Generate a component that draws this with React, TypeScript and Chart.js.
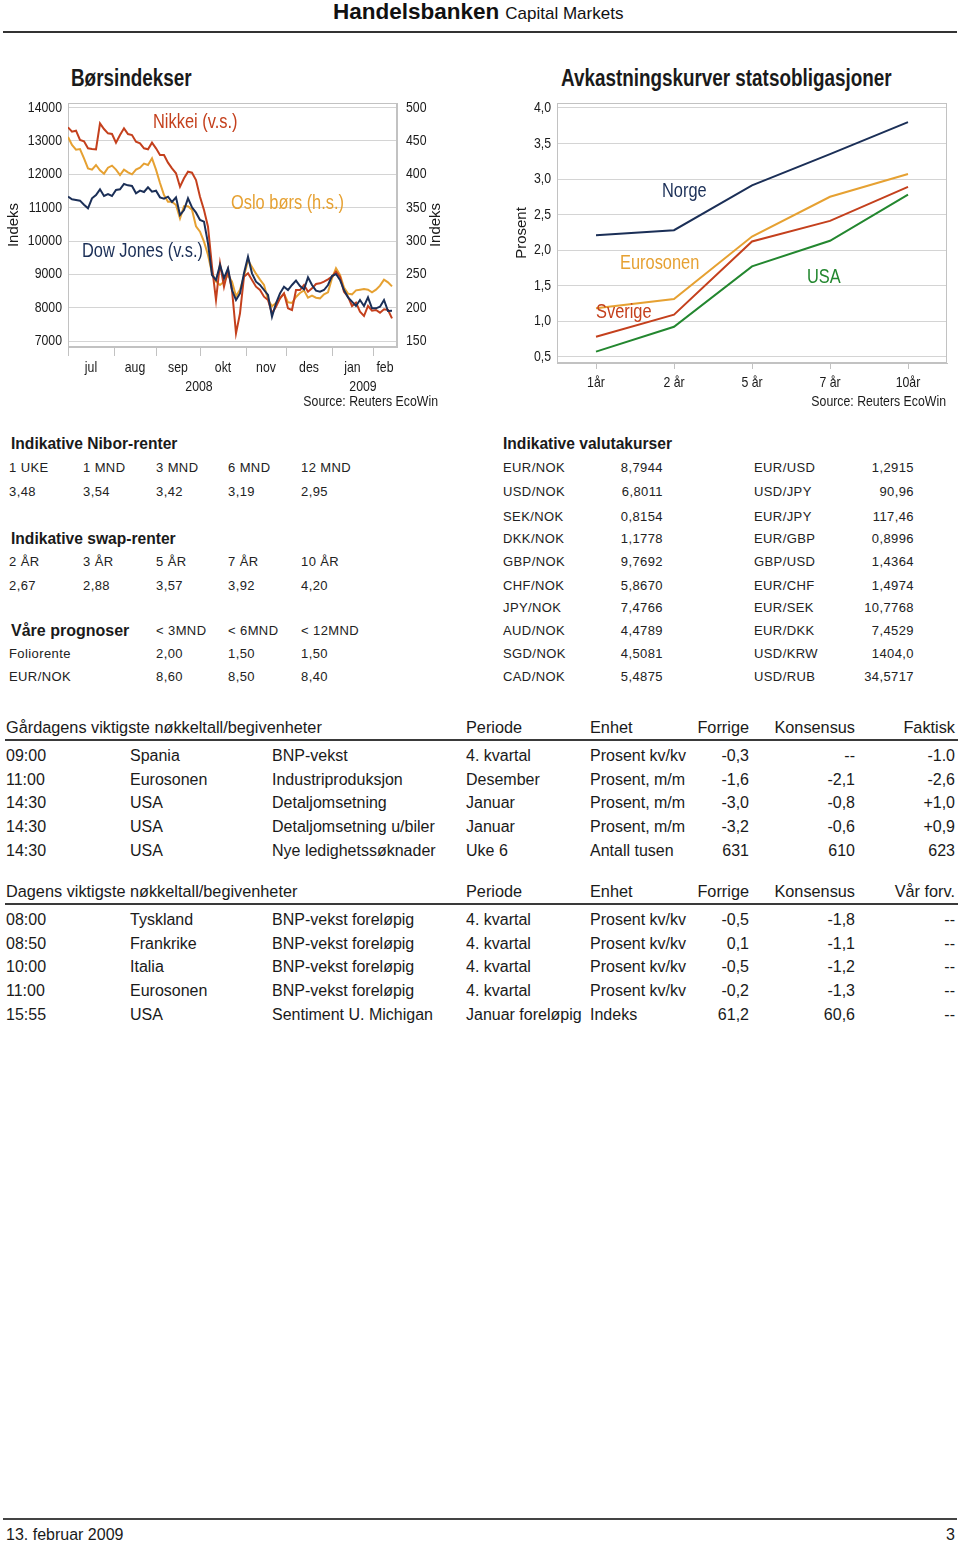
import React, { useEffect, useRef } from "react";
import { Chart, registerables } from "chart.js";

Chart.register(...registerables);
if (typeof document !== "undefined") document.body.style.margin = "0";

const SANS = '"Liberation Sans", Arial, Helvetica, sans-serif';
const SX = 0.82; // horizontal squeeze that imitates a narrow face

const NAVY = "#1b2f57";
const RED = "#c4401d";
const ORANGE = "#e6a132";
const GREEN = "#23872f";
const GRID = "#d4d4d4";
const FRAME = "#c2c2c2";
const INK = "#1a1a1a";

// ---------- Børsindekser (sampled roughly every second trading day, Jul 2008 - Feb 2009) ----------
const nikkei = [
  13410, 13280, 13310, 13030, 12990, 12780, 12760, 12750, 13530, 13360,
  13230, 13210, 12950, 13180, 13380, 13210, 13180, 12980, 12930, 12780,
  12750, 12950, 12780, 12580, 12580, 12350, 12180, 12030, 11630, 11880,
  12080, 12050, 11830, 11330, 10930, 10430, 9230, 8230, 9330, 8630,
  9130, 8530, 7230, 7830, 8930, 9030, 8830, 8630, 8530, 8330,
  8230, 7830, 8030, 8280, 8430, 7980, 7930, 8530, 8530, 8680,
  8480, 8580, 8710, 8730, 8780, 8850, 8930, 9080, 8930, 8480,
  8330, 8050, 8150, 7880, 7750, 8050, 7910, 7930, 7850, 7950,
  7930, 7680,
];
const dowJones = [
  11330, 11250, 11230, 11210, 11090, 10980, 11280, 11380, 11550, 11350,
  11410, 11350, 11530, 11550, 11710, 11670, 11650, 11430, 11510, 11470,
  11610, 11480, 11510, 11310, 11270, 11330, 11170, 11310, 10780, 10930,
  11280, 11010, 10850, 10630, 10580, 9930, 8980, 8830, 9280, 8880,
  9180, 8530, 8230, 8430, 9030, 9530, 9030, 8780, 8680, 8530,
  8380, 7730, 8130, 8430, 8630, 8530, 8680, 8810, 8650, 8550,
  8910, 8680, 8510, 8480, 8530, 8680, 8950, 9010, 8830, 8530,
  8310, 8180, 8050, 8230, 8050, 8310, 7980, 7980, 8030, 8230,
  7900, 7910,
];
const osloBors = [
  456, 444, 437, 438, 424, 409, 407, 414, 406, 401,
  410, 413, 407, 399, 407, 403, 400, 407, 410, 416,
  414, 424, 407, 387, 369, 359, 359, 354, 334, 352,
  352, 347, 322, 314, 299, 279, 252, 239, 234, 239,
  249, 239, 217, 227, 247, 271, 261, 251, 242, 234,
  212, 202, 207, 214, 221, 208, 207, 216, 222, 226,
  215, 218, 215, 214, 220, 223, 244, 259, 249, 230,
  221, 220, 226, 227, 228, 227, 223, 227, 233, 242,
  238, 232,
];
const months = ["jul", "aug", "sep", "okt", "nov", "des", "jan", "feb"];
const monthStarts = [0, 11.5, 22, 33, 44.5, 54.5, 66, 76.25]; // in sample units
const xEnd = 82.25;
const years = ["2008", "2009"];
const yearAt = [32.75, 73.75];
const leftTicks = [7000, 8000, 9000, 10000, 11000, 12000, 13000, 14000];
const rightTicks = [150, 200, 250, 300, 350, 400, 450, 500];

// ---------- Avkastningskurver ----------
const maturities = ["1år", "2 år", "5 år", "7 år", "10år"];
const norge = [2.21, 2.28, 2.91, 3.35, 3.8];
const eurosonen = [1.18, 1.31, 2.19, 2.75, 3.07];
const sverige = [0.78, 1.09, 2.12, 2.41, 2.89];
const usa = [0.57, 0.92, 1.77, 2.13, 2.78];
const yieldTicks = [0.5, 1.0, 1.5, 2.0, 2.5, 3.0, 3.5, 4.0];

// ---------- Tables ----------
const niborTenors = ["1 UKE", "1 MND", "3 MND", "6 MND", "12 MND"];
const niborRates = ["3,48", "3,54", "3,42", "3,19", "2,95"];
const swapTenors = ["2 ÅR", "3 ÅR", "5 ÅR", "7 ÅR", "10 ÅR"];
const swapRates = ["2,67", "2,88", "3,57", "3,92", "4,20"];
const forecastHorizons = ["< 3MND", "< 6MND", "< 12MND"];
const foliorente = ["2,00", "1,50", "1,50"];
const eurnokForecast = ["8,60", "8,50", "8,40"];
const fxLeftPairs = ["EUR/NOK", "USD/NOK", "SEK/NOK", "DKK/NOK", "GBP/NOK", "CHF/NOK", "JPY/NOK", "AUD/NOK", "SGD/NOK", "CAD/NOK"];
const fxLeftRates = ["8,7944", "6,8011", "0,8154", "1,1778", "9,7692", "5,8670", "7,4766", "4,4789", "4,5081", "5,4875"];
const fxRightPairs = ["EUR/USD", "USD/JPY", "EUR/JPY", "EUR/GBP", "GBP/USD", "EUR/CHF", "EUR/SEK", "EUR/DKK", "USD/KRW", "USD/RUB"];
const fxRightRates = ["1,2915", "90,96", "117,46", "0,8996", "1,4364", "1,4974", "10,7768", "7,4529", "1404,0", "34,5717"];

const ydayTimes = ["09:00", "11:00", "14:30", "14:30", "14:30"];
const ydayCountries = ["Spania", "Eurosonen", "USA", "USA", "USA"];
const ydayEvents = ["BNP-vekst", "Industriproduksjon", "Detaljomsetning", "Detaljomsetning u/biler", "Nye ledighetssøknader"];
const ydayPeriods = ["4. kvartal", "Desember", "Januar", "Januar", "Uke 6"];
const ydayUnits = ["Prosent kv/kv", "Prosent, m/m", "Prosent, m/m", "Prosent, m/m", "Antall tusen"];
const ydayPrev = ["-0,3", "-1,6", "-3,0", "-3,2", "631"];
const ydayCons = ["--", "-2,1", "-0,8", "-0,6", "610"];
const ydayActual = ["-1.0", "-2,6", "+1,0", "+0,9", "623"];

const todayTimes = ["08:00", "08:50", "10:00", "11:00", "15:55"];
const todayCountries = ["Tyskland", "Frankrike", "Italia", "Eurosonen", "USA"];
const todayEvents = ["BNP-vekst foreløpig", "BNP-vekst foreløpig", "BNP-vekst foreløpig", "BNP-vekst foreløpig", "Sentiment U. Michigan"];
const todayPeriods = ["4. kvartal", "4. kvartal", "4. kvartal", "4. kvartal", "Januar foreløpig"];
const todayUnits = ["Prosent kv/kv", "Prosent kv/kv", "Prosent kv/kv", "Prosent kv/kv", "Indeks"];
const todayPrev = ["-0,5", "0,1", "-0,5", "-0,2", "61,2"];
const todayCons = ["-1,8", "-1,1", "-1,2", "-1,3", "60,6"];
const todayOurs = ["--", "--", "--", "--", "--"];

// ---------- helpers ----------
type TP = {
  x: number; y: number; s?: number; b?: boolean; c?: string; r?: boolean; ls?: number; n?: boolean;
  children: React.ReactNode;
};
function T({ x, y, s = 13, b = false, c = INK, r = false, ls = 0, n = false, children }: TP) {
  const style: React.CSSProperties = {
    position: "absolute",
    top: y,
    transform: n ? `translateY(-50%) scaleX(${SX})` : "translateY(-50%)",
    transformOrigin: r ? "right center" : "left center",
    fontFamily: SANS,
    fontSize: s,
    fontWeight: b ? 700 : 400,
    lineHeight: 1.15,
    color: c,
    whiteSpace: "nowrap",
    letterSpacing: ls,
  };
  if (r) style.right = 960 - x;
  else style.left = x;
  return <div style={style}>{children}</div>;
}

function narrowText(ctx: CanvasRenderingContext2D, text: string, x: number, y: number, align: CanvasTextAlign) {
  ctx.save();
  ctx.translate(x, y);
  ctx.scale(SX, 1);
  ctx.textAlign = align;
  ctx.textBaseline = "middle";
  ctx.fillText(text, 0, 0);
  ctx.restore();
}

const framePlugin = {
  id: "frame",
  beforeDatasetsDraw(chart: any) {
    const { ctx, chartArea } = chart;
    const { left, top, right, bottom } = chartArea;
    ctx.save();
    ctx.strokeStyle = FRAME;
    ctx.lineWidth = 1;
    ctx.strokeRect(Math.round(left) + 0.5, Math.round(top) + 0.5, Math.round(right - left) - 1, Math.round(bottom - top) - 1);
    ctx.restore();
  },
};

const borsDecor = {
  id: "borsDecor",
  afterDraw(chart: any) {
    const { ctx, chartArea } = chart;
    const xs = chart.scales.x;
    const yl = chart.scales.y;
    const yr = chart.scales.y2;
    ctx.save();
    ctx.fillStyle = INK;
    ctx.font = `15px ${SANS}`;
    leftTicks.forEach((v) => narrowText(ctx, String(v), chartArea.left - 6, yl.getPixelForValue(v), "right"));
    rightTicks.forEach((v) => narrowText(ctx, String(v), chartArea.right + 9, yr.getPixelForValue(v), "left"));
    months.forEach((m, i) => {
      const a = monthStarts[i];
      const b = i + 1 < monthStarts.length ? monthStarts[i + 1] : xs.max;
      narrowText(ctx, m, (xs.getPixelForValue(a) + xs.getPixelForValue(b)) / 2, chartArea.bottom + 21, "center");
    });
    years.forEach((t, i) => narrowText(ctx, t, xs.getPixelForValue(yearAt[i]), chartArea.bottom + 40, "center"));
    narrowText(ctx, "Source: Reuters EcoWin", 438, chartArea.bottom + 55, "right");
    ctx.translate(436, (chartArea.top + chartArea.bottom) / 2);
    ctx.rotate(-Math.PI / 2);
    ctx.textAlign = "center";
    ctx.textBaseline = "middle";
    ctx.fillText("Indeks", 0, 0);
    ctx.restore();
  },
};

const yieldDecor = {
  id: "yieldDecor",
  afterDraw(chart: any) {
    const { ctx, chartArea } = chart;
    const xs = chart.scales.x;
    const ys = chart.scales.y;
    ctx.save();
    ctx.fillStyle = INK;
    ctx.font = `15px ${SANS}`;
    yieldTicks.forEach((v) => narrowText(ctx, v.toFixed(1).replace(".", ","), chartArea.left - 6, ys.getPixelForValue(v), "right"));
    maturities.forEach((m, i) => narrowText(ctx, m, xs.getPixelForValue(i), chartArea.bottom + 20, "center"));
    narrowText(ctx, "Source: Reuters EcoWin", 446, chartArea.bottom + 39, "right");
    ctx.restore();
  },
};

function BorsChart() {
  const ref = useRef<HTMLCanvasElement>(null);
  useEffect(() => {
    const pts = (arr: number[]) => arr.map((v, i) => ({ x: i, y: v }));
    const line = (label: string, data: number[], color: string, axis: string, order: number) => ({
      label,
      data: pts(data),
      borderColor: color,
      backgroundColor: color,
      borderWidth: 2,
      pointRadius: 0,
      tension: 0,
      yAxisID: axis,
      order,
    });
    const chart = new Chart(ref.current as HTMLCanvasElement, {
      type: "line",
      data: {
        datasets: [
          line("Dow Jones (v.s.)", dowJones, NAVY, "y", 0),
          line("Nikkei (v.s.)", nikkei, RED, "y", 1),
          line("Oslo børs (h.s.)", osloBors, ORANGE, "y2", 2),
        ] as any,
      },
      options: {
        animation: false,
        responsive: false,
        devicePixelRatio: 1,
        layout: { padding: { top: 8, left: 0, right: 0, bottom: 0 } },
        plugins: { legend: { display: false }, tooltip: { enabled: false } },
        scales: {
          x: {
            type: "linear",
            min: 0,
            max: xEnd,
            afterBuildTicks: (s: any) => { s.ticks = monthStarts.map((v) => ({ value: v })); },
            afterFit: (s: any) => { s.height = 68; },
            ticks: { display: false },
            grid: { drawOnChartArea: false, drawTicks: true, tickLength: 9, color: FRAME },
            border: { color: FRAME },
          },
          y: {
            position: "left",
            min: 6820,
            max: 14140,
            afterBuildTicks: (s: any) => { s.ticks = leftTicks.map((v) => ({ value: v })); },
            afterFit: (s: any) => { s.width = 68; },
            ticks: { display: false },
            grid: { color: GRID, drawTicks: false },
            border: { color: FRAME },
            title: { display: true, text: "Indeks", color: INK, font: { family: SANS, size: 15 }, padding: { top: 5, bottom: 0 } },
          },
          y2: {
            position: "right",
            min: 141,
            max: 507,
            afterBuildTicks: (s: any) => { s.ticks = rightTicks.map((v) => ({ value: v })); },
            afterFit: (s: any) => { s.width = 53; },
            ticks: { display: false },
            grid: { drawOnChartArea: false, drawTicks: false },
            border: { color: FRAME },
          },
        },
      } as any,
      plugins: [framePlugin, borsDecor],
    });
    return () => chart.destroy();
  }, []);
  return <canvas ref={ref} width={450} height={320} style={{ position: "absolute", left: 0, top: 95, width: 450, height: 320 }} />;
}

function YieldChart() {
  const ref = useRef<HTMLCanvasElement>(null);
  useEffect(() => {
    const line = (label: string, data: number[], color: string, order: number) => ({
      label, data, borderColor: color, backgroundColor: color, borderWidth: 2, pointRadius: 0, tension: 0, order,
    });
    const chart = new Chart(ref.current as HTMLCanvasElement, {
      type: "line",
      data: {
        labels: maturities,
        datasets: [
          line("Norge", norge, NAVY, 0),
          line("Eurosonen", eurosonen, ORANGE, 1),
          line("Sverige", sverige, RED, 2),
          line("USA", usa, GREEN, 3),
        ] as any,
      },
      options: {
        animation: false,
        responsive: false,
        devicePixelRatio: 1,
        layout: { padding: { top: 8, left: 0, right: 13, bottom: 0 } },
        plugins: { legend: { display: false }, tooltip: { enabled: false } },
        scales: {
          x: {
            type: "category",
            offset: true,
            afterFit: (s: any) => { s.height = 52; },
            ticks: { display: false },
            grid: { offset: false, drawOnChartArea: false, drawTicks: true, tickLength: 6, color: FRAME },
            border: { color: FRAME },
          },
          y: {
            min: 0.41,
            max: 4.07,
            afterBuildTicks: (s: any) => { s.ticks = yieldTicks.map((v) => ({ value: v })); },
            afterFit: (s: any) => { s.width = 57; },
            ticks: { display: false },
            grid: { color: GRID, drawTicks: false },
            border: { color: FRAME },
            title: { display: true, text: "Prosent", color: INK, font: { family: SANS, size: 15 }, padding: { top: 13, bottom: 0 } },
          },
        },
      } as any,
      plugins: [framePlugin, yieldDecor],
    });
    return () => chart.destroy();
  }, []);
  return <canvas ref={ref} width={460} height={320} style={{ position: "absolute", left: 500, top: 95, width: 460, height: 320 }} />;
}

const SM = { s: 13, ls: 0.4, c: "#222" };
const fxRowY = [468, 492, 517, 539, 562, 586, 608, 631, 654, 677];
const niborX = [9, 83, 156, 228, 301];

function EventTable({ top, title, lastHead, cols }: { top: number; title: string; lastHead: string; cols: string[][] }) {
  const rowY = [29, 53, 76, 100, 124];
  const [times, countries, events, periods, units, prev, cons, last] = cols;
  return (
    <>
      <T x={6} y={top} s={16.3}>{title}</T>
      <T x={466} y={top} s={16.3}>Periode</T>
      <T x={590} y={top} s={16.3}>Enhet</T>
      <T x={749} y={top} s={16.3} r>Forrige</T>
      <T x={855} y={top} s={16.3} r>Konsensus</T>
      <T x={955} y={top} s={16.3} r>{lastHead}</T>
      <div style={{ position: "absolute", left: 5, top: top + 12, width: 953, height: 2, background: "#3a3a3a" }} />
      {times.map((_, i) => (
        <React.Fragment key={i}>
          <T x={6} y={top + rowY[i]} s={16}>{times[i]}</T>
          <T x={130} y={top + rowY[i]} s={16}>{countries[i]}</T>
          <T x={272} y={top + rowY[i]} s={16}>{events[i]}</T>
          <T x={466} y={top + rowY[i]} s={16}>{periods[i]}</T>
          <T x={590} y={top + rowY[i]} s={16}>{units[i]}</T>
          <T x={749} y={top + rowY[i]} s={16} r>{prev[i]}</T>
          <T x={855} y={top + rowY[i]} s={16} r>{cons[i]}</T>
          <T x={955} y={top + rowY[i]} s={16} r>{last[i]}</T>
        </React.Fragment>
      ))}
    </>
  );
}

export default function App() {
  return (
    <div style={{ position: "relative", width: 960, height: 1542, background: "#fff", overflow: "hidden", fontFamily: SANS }}>
      {/* header */}
      <div style={{ position: "absolute", left: 333, top: 12, transform: "translateY(-50%)", whiteSpace: "nowrap", color: "#111", fontFamily: SANS, lineHeight: 1.15 }}>
        <span style={{ fontSize: 22.5, fontWeight: 700 }}>Handelsbanken</span>
        <span style={{ fontSize: 17, marginLeft: 6 }}>Capital Markets</span>
      </div>
      <div style={{ position: "absolute", left: 3, top: 31, width: 954, height: 2, background: "#333" }} />

      {/* charts */}
      <T x={71} y={78} s={23} b n>Børsindekser</T>
      <T x={561} y={78} s={23} b n>Avkastningskurver statsobligasjoner</T>
      <BorsChart />
      <YieldChart />
      <T x={153} y={121} s={20} n c={RED}>Nikkei (v.s.)</T>
      <T x={231} y={202} s={20} n c={ORANGE}>Oslo børs (h.s.)</T>
      <T x={82} y={250} s={20} n c={NAVY}>Dow Jones (v.s.)</T>
      <T x={662} y={190} s={20} n c={NAVY}>Norge</T>
      <T x={620} y={262} s={20} n c={ORANGE}>Eurosonen</T>
      <T x={807} y={276} s={20} n c={GREEN}>USA</T>
      <T x={596} y={311} s={20} n c={RED}>Sverige</T>

      {/* Nibor / swap / forecasts */}
      <T x={11} y={444} s={15.6} b>Indikative Nibor-renter</T>
      {niborTenors.map((t, i) => <T key={"nt" + i} x={niborX[i]} y={468} {...SM}>{t}</T>)}
      {niborRates.map((t, i) => <T key={"nr" + i} x={niborX[i]} y={492} {...SM}>{t}</T>)}
      <T x={11} y={539} s={15.6} b>Indikative swap-renter</T>
      {swapTenors.map((t, i) => <T key={"st" + i} x={niborX[i]} y={562} {...SM}>{t}</T>)}
      {swapRates.map((t, i) => <T key={"sr" + i} x={niborX[i]} y={586} {...SM}>{t}</T>)}
      <T x={11} y={631} s={16} b>Våre prognoser</T>
      {forecastHorizons.map((t, i) => <T key={"fh" + i} x={niborX[i + 2]} y={631} {...SM}>{t}</T>)}
      <T x={9} y={654} {...SM}>Foliorente</T>
      {foliorente.map((t, i) => <T key={"fo" + i} x={niborX[i + 2]} y={654} {...SM}>{t}</T>)}
      <T x={9} y={677} {...SM}>EUR/NOK</T>
      {eurnokForecast.map((t, i) => <T key={"en" + i} x={niborX[i + 2]} y={677} {...SM}>{t}</T>)}

      {/* FX */}
      <T x={503} y={444} s={15.6} b>Indikative valutakurser</T>
      {fxLeftPairs.map((p, i) => (
        <React.Fragment key={"fx" + i}>
          <T x={503} y={fxRowY[i]} {...SM}>{p}</T>
          <T x={663} y={fxRowY[i]} r {...SM}>{fxLeftRates[i]}</T>
          <T x={754} y={fxRowY[i]} {...SM}>{fxRightPairs[i]}</T>
          <T x={914} y={fxRowY[i]} r {...SM}>{fxRightRates[i]}</T>
        </React.Fragment>
      ))}

      {/* events */}
      <EventTable
        top={727}
        title="Gårdagens viktigste nøkkeltall/begivenheter"
        lastHead="Faktisk"
        cols={[ydayTimes, ydayCountries, ydayEvents, ydayPeriods, ydayUnits, ydayPrev, ydayCons, ydayActual]}
      />
      <EventTable
        top={891}
        title="Dagens viktigste nøkkeltall/begivenheter"
        lastHead="Vår forv."
        cols={[todayTimes, todayCountries, todayEvents, todayPeriods, todayUnits, todayPrev, todayCons, todayOurs]}
      />

      {/* footer */}
      <div style={{ position: "absolute", left: 3, top: 1518, width: 954, height: 2, background: "#444" }} />
      <T x={6} y={1535} s={16}>13. februar 2009</T>
      <T x={955} y={1535} s={16} r>3</T>
    </div>
  );
}
